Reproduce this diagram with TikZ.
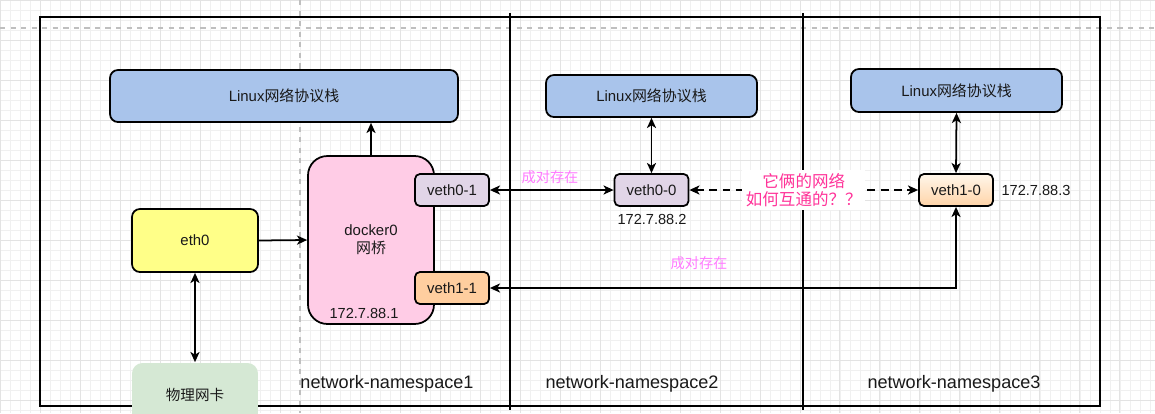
\documentclass[tikz,border=0pt]{standalone}
\usepackage{fontspec}
\setmainfont{Liberation Sans}
\newfontfamily\cjk{Noto Sans CJK SC}
\usepackage{xcolor}
\usetikzlibrary{arrows.meta}

\definecolor{stackblue}{HTML}{A9C4EB}
\definecolor{bridgepink}{HTML}{FFCCE6}
\definecolor{vethlilac}{HTML}{E1D5E7}
\definecolor{vethorange}{HTML}{FFCE9F}
\definecolor{ethyellow}{HTML}{FFFF88}
\definecolor{nicgreen}{HTML}{D5E8D4}
\definecolor{pairpink}{HTML}{FF7AFF}
\definecolor{askpink}{HTML}{FF3399}

\tikzset{
  box/.style={draw=black, line width=1pt, inner sep=0pt, text=black!90,
    font=\fontsize{8.5}{10.2}\selectfont, align=center},
  stackbox/.style={box, fill=stackblue, rounded corners=4.5pt},
  vethbox/.style={box, minimum width=1.48cm, minimum height=0.64cm, rounded corners=2.8pt},
  link/.style={line width=1pt},
  frame/.style={line width=1.1pt},
  iplabel/.style={font=\fontsize{8.3}{10}\selectfont, text=black!90},
  pairlabel/.style={font=\cjk\fontsize{8.1}{10}\selectfont, text=pairpink},
  nslabel/.style={font=\fontsize{10.3}{12}\selectfont, text=black!90},
}

\begin{document}
\begin{tikzpicture}[x=0.02cm, y=-0.02cm, >={Stealth[length=5.8pt,width=5.2pt,inset=1.6pt]}]
  % canvas 1155 x 413 px, 1px = 0.02cm, y grows downward
  \useasboundingbox (0,0) rectangle (1155,413);
  \clip (0,0) rectangle (1155,413);
  % draw.io grid + page breaks
  \draw[step=0.2cm, black!6, line width=0.3pt] (0,0) grid (1155,413);
  \draw[step=0.8cm, black!11, line width=0.4pt] (0,0) grid (1155,413);
  \draw[black!25, dashed, line width=0.6pt] (0,28) -- (1155,28);
  \draw[black!25, dashed, line width=0.6pt] (300,0) -- (300,413);

  % three namespaces
  \draw[frame] (40,17) rectangle (1100,406);
  \draw[frame] (510,13) -- (510,410);
  \draw[frame] (803,13) -- (803,410);

  % namespace1: host side
  \node[stackbox, minimum width=6.96cm, minimum height=1.04cm] (linuxA) at (284,96) {Linux{\cjk 网络协议栈}};
  \node[box, fill=bridgepink, rounded corners=11pt, minimum width=2.52cm, minimum height=3.36cm] (docker0) at (371,240) {docker0\\{\cjk 网桥}};
  \node[iplabel] (ipA) at (364,313) {172.7.88.1};
  \node[vethbox, fill=vethlilac] (veth01) at (452,190) {veth0-1};
  \node[vethbox, fill=vethorange] (veth11) at (452,288) {veth1-1};
  \node[box, fill=ethyellow, rounded corners=4.5pt, minimum width=2.52cm, minimum height=1.26cm] (eth0) at (195,240.5) {eth0};
  \node[box, draw=none, fill=nicgreen, rounded corners=6pt, minimum width=2.52cm, minimum height=1.26cm, font=\cjk\fontsize{8.3}{10}\selectfont] (nic) at (195,394.5) {物理网卡};

  % namespace2
  \node[stackbox, minimum width=4.22cm, minimum height=0.84cm] (linuxB) at (651.5,96) {Linux{\cjk 网络协议栈}};
  \node[vethbox, fill=vethlilac] (veth00) at (651.5,190) {veth0-0};
  \node[iplabel] (ipB) at (652,219) {172.7.88.2};

  % namespace3
  \node[stackbox, minimum width=4.22cm, minimum height=0.86cm] (linuxC) at (956.5,90.5) {Linux{\cjk 网络协议栈}};
  \node[vethbox, top color={rgb,255:red,255;green,246;blue,234}, bottom color={rgb,255:red,255;green,212;blue,168}] (veth10) at (956,190) {veth1-0};
  \node[iplabel] (ipC) at (1036,190) {172.7.88.3};

  % connectors
  \draw[link,->] (docker0.north) -- (docker0.north |- linuxA.south);
  \draw[link,->] (eth0.east) -- (docker0.west);
  \draw[link,<->] (eth0.south) -- (nic.north);
  \draw[link,<->] (veth01.east) -- (veth00.west);
  \draw[link,<->] (linuxB.south) -- (veth00.north);
  \draw[link,<->] (linuxC.south) -- (veth10.north);
  \draw[link,<->] (veth11.east) -- (veth11.east -| veth10.south) -- (veth10.south);
  \draw[link,<->, dash pattern=on 4.5pt off 3pt] (veth00.east) -- (veth10.west)
    node[pos=0.5, fill=white, inner sep=2pt, text=askpink, align=center,
         font=\cjk\fontsize{9.4}{10.3}\selectfont] (ask) {它俩的网络\\如何互通的？？};

  % labels
  \node[pairlabel] (pairA) at (550,177) {成对存在};
  \node[pairlabel] (pairB) at (699,263) {成对存在};
  \node[nslabel] (ns1) at (387,384) {network-namespace1};
  \node[nslabel] (ns2) at (632,384) {network-namespace2};
  \node[nslabel] (ns3) at (954,384) {network-namespace3};
\end{tikzpicture}
\end{document}
